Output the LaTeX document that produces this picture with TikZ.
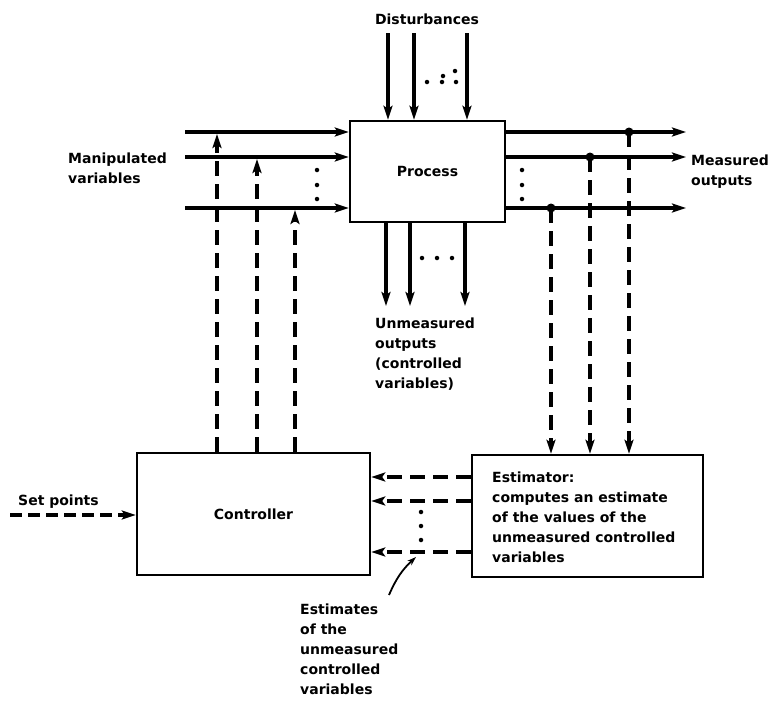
\documentclass[tikz,border=0pt]{standalone}
\usepackage{fontspec}
\setmainfont{DejaVu Sans}
\usetikzlibrary{arrows.meta}
\begin{document}
\begin{tikzpicture}[x=1pt,y=-1pt,
  ln/.style={line width=3.2pt},
  arr/.style={ln,-{Stealth[length=14pt,width=9pt,inset=3pt]}},
  dsh/.style={dash pattern=on 15pt off 8pt},
  sdsh/.style={dash pattern=on 12pt off 6pt},
  box/.style={draw,line width=2.4pt,inner sep=0pt},
  lbl/.style={font=\fontsize{14}{20}\selectfont\bfseries,align=left,inner sep=0pt,anchor=north west},
  ctr/.style={font=\fontsize{14}{20}\selectfont\bfseries,inner sep=0pt},
  pt/.style={circle,fill,inner sep=0pt,minimum size=4.5pt},
  jn/.style={circle,fill,inner sep=0pt,minimum size=9pt}]
\useasboundingbox (0,0) rectangle (771,702);
% boxes
\node[box,minimum width=155pt,minimum height=101pt] (proc) at (427.5,171.5) {};
\node[ctr] (proctxt) at (proc.center) {Process};
\node[box,minimum width=233pt,minimum height=122pt] (ctrl) at (253.5,514) {};
\node[ctr] (ctrltxt) at (ctrl.center) {Controller};
\node[box,minimum width=231pt,minimum height=122pt] (est) at (587.5,516) {};
\node[lbl] (esttxt) at (492,472) {Estimator:\\computes an estimate\\of the values of the\\unmeasured controlled\\variables};
% labels
\node[ctr] (dist) at (427,19) {Disturbances};
\node[lbl] (manip) at (68,153) {Manipulated\\variables};
\node[lbl] (meas) at (691,155) {Measured\\outputs};
\node[lbl] (unm) at (375,318) {Unmeasured\\outputs\\(controlled\\variables)};
\node[lbl] (setp) at (18,495) {Set points};
\node[lbl] (estm) at (300,604) {Estimates\\of the\\unmeasured\\controlled\\variables};
% disturbances
\coordinate (d1) at (388,33);
\coordinate (d2) at (414,33);
\coordinate (d3) at (467,33);
\foreach \d in {d1,d2,d3} \draw[arr] (\d) -- (\d |- proc.north);
\node[pt] (dd1) at (427,82) {};
\node[pt] (dd2) at (442,82) {};
\node[pt] (dd3) at (443,76) {};
\node[pt] (dd4) at (455,71) {};
\node[pt] (dd5) at (456,82) {};
% manipulated variables
\coordinate (m1) at (185,132);
\coordinate (m2) at (185,157);
\coordinate (m3) at (185,208);
\foreach \m in {m1,m2,m3} \draw[arr] (\m) -- (\m -| proc.west);
\node[pt] (md1) at (317,170) {};
\node[pt] (md2) at (317,185) {};
\node[pt] (md3) at (317,199) {};
% controller outputs
\coordinate (k1) at (217,134);
\coordinate (k2) at (257,159);
\coordinate (k3) at (295,210);
\foreach \k in {k1,k2,k3} \draw[arr,dsh] (\k |- ctrl.north) -- (\k);
% measured outputs
\coordinate (o1) at (686,132);
\coordinate (o2) at (686,157);
\coordinate (o3) at (686,208);
\foreach \o in {o1,o2,o3} \draw[arr] (\o -| proc.east) -- (\o);
\node[pt] (od1) at (522,170) {};
\node[pt] (od2) at (522,185) {};
\node[pt] (od3) at (522,199) {};
\node[jn] (j1) at (629,132) {};
\node[jn] (j2) at (590,157) {};
\node[jn] (j3) at (551,208) {};
\foreach \j in {j1,j2,j3} \draw[arr,dsh] (\j.center) -- (\j |- est.north);
% unmeasured outputs
\coordinate (u1) at (386,306);
\coordinate (u2) at (410,306);
\coordinate (u3) at (465,306);
\foreach \u in {u1,u2,u3} \draw[arr] (\u |- proc.south) -- (\u);
\node[pt] (ud1) at (422,258) {};
\node[pt] (ud2) at (437,258) {};
\node[pt] (ud3) at (452,258) {};
% estimates
\coordinate (e1) at (0,477);
\coordinate (e2) at (0,501);
\coordinate (e3) at (0,552);
\foreach \e in {e1,e2,e3} \draw[arr,dsh] (\e -| est.west) -- (\e -| ctrl.east);
\node[pt] (ed1) at (421,512) {};
\node[pt] (ed2) at (421,526) {};
\node[pt] (ed3) at (421,540) {};
% set points
\coordinate (sp) at (10,515);
\draw[arr,sdsh] (sp) -- (sp -| ctrl.west);
% pointer
\coordinate (ps) at (389,595);
\coordinate (pe) at (416,557);
\draw[line width=1.8pt,-{Stealth[length=9pt,width=6pt]}] (ps) to[bend left=12] (pe);
\end{tikzpicture}
\end{document}
